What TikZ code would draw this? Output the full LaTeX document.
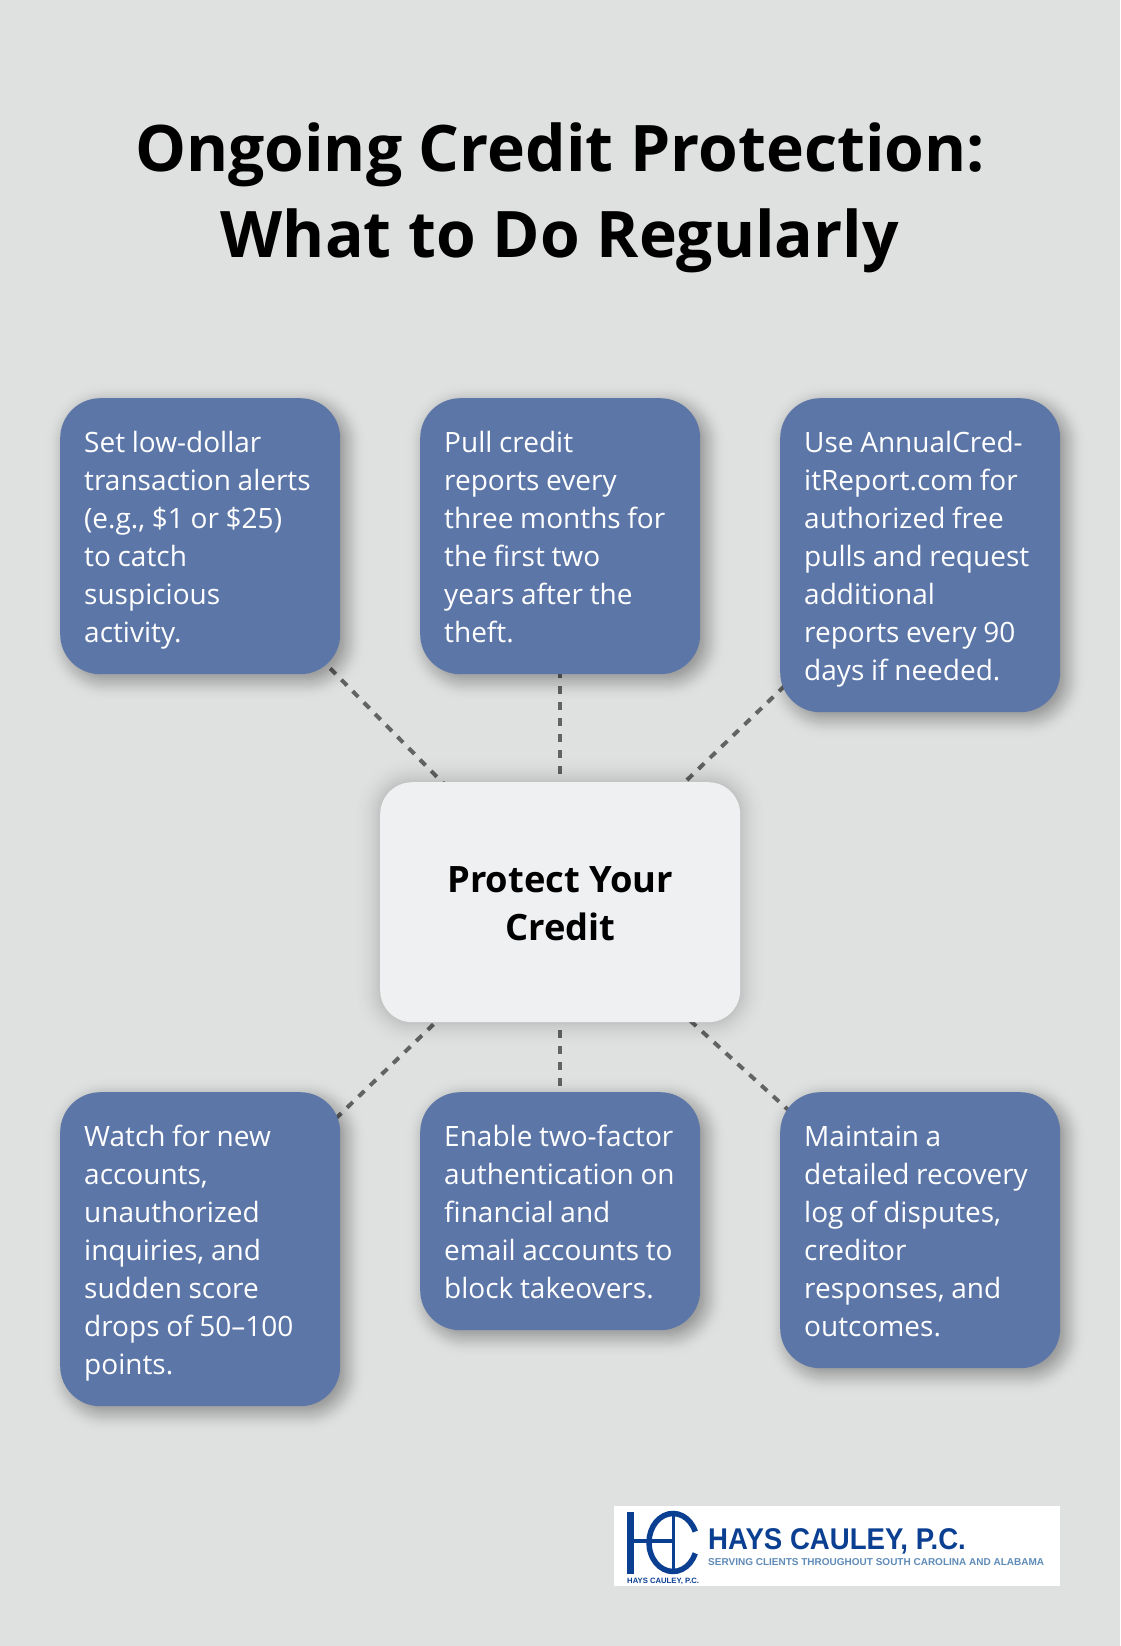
\documentclass[tikz,border=0pt]{standalone}
\usepackage{fontspec}
\setmainfont{Open Sans}
\newfontfamily\plainfont{Open Sans}[WordSpace=0.92]
\newfontfamily\logofont{Liberation Sans}[FakeStretch=0.92]
\newfontfamily\logosmall{Liberation Sans}
\definecolor{bgc}{HTML}{DFE1E0}
\definecolor{boxc}{HTML}{5C76A8}
\definecolor{midc}{HTML}{EFF0F2}
\definecolor{linec}{HTML}{636363}
\definecolor{logoa}{HTML}{0B3F92}
\definecolor{logob}{HTML}{5F8BB8}
\pgfdeclarelayer{paper}
\pgfdeclarelayer{lines}
\pgfdeclarelayer{shadow}
\pgfsetlayers{paper,lines,shadow,main}
\tikzset{
  x=1pt,y=-1pt,
  card/.style={anchor=north west,fill=boxc,rounded corners=40pt,inner sep=0pt,minimum width=280pt},
  cardtext/.style={anchor=north west,text=white,inner sep=0pt,align=left,font=\plainfont\fontsize{28}{38}\selectfont},
  hub/.style={anchor=north west,fill=midc,text=black,rounded corners=32pt,inner sep=0pt,
    minimum width=360pt,minimum height=240pt,align=center,font=\fontsize{36.3}{48}\selectfont\bfseries},
  title/.style={anchor=center,align=center,text=black,inner sep=0pt,font=\fontsize{64.2}{86}\selectfont\bfseries},
  link/.style={draw=linec,line width=4pt,dash pattern=on 8pt off 8pt},
}
\newcommand{\cardbox}[5]{% name, x, y, h, text
  \node[card,minimum height=#4] (#1) at (#2,#3) {};
  \node[cardtext] (#1-t) at ([xshift=24pt,yshift=-27.5pt]#1.north west) {\strut #5\strut};
}
% node, radius, offset, sigma, alpha
\newcommand{\softshadow}[5]{%
  \begin{pgfonlayer}{shadow}
  \foreach \d in {-28,-26,...,28}{
    \pgfmathsetmacro{\op}{#5*2/(#4*2.5066)*exp(-(\d*\d)/(2*#4*#4))}
    \pgfmathsetmacro{\rr}{max(#2+\d,1)}
    \fill[black,opacity=\op,rounded corners=\rr pt]
      ([xshift=#3 pt-\d pt,yshift=-#3 pt+\d pt]#1.north west) rectangle ([xshift=#3 pt+\d pt,yshift=-#3 pt-\d pt]#1.south east);
  }
  \end{pgfonlayer}
}
\begin{document}
\begin{tikzpicture}
\begin{pgfonlayer}{paper}
\fill[bgc] (0,0) rectangle (1120,1646);
\end{pgfonlayer}
\useasboundingbox (0,0) rectangle (1120,1646);

\node[title] (ttl) at (560,197.5) {Ongoing Credit Protection:\\What to Do Regularly};

\cardbox{a}{60}{398}{276pt}{Set low-dollar\\transaction alerts\\(e.g., \$1 or \$25)\\to catch\\suspicious\\activity.}
\cardbox{b}{420}{398}{276pt}{Pull credit\\reports every\\three months for\\the first two\\years after the\\theft.}
\cardbox{c}{780}{398}{314pt}{Use AnnualCred-\\itReport.com for\\authorized free\\pulls and request\\additional\\reports every 90\\days if needed.}
\node[hub] (m) at (380,782) {\rule{0pt}{28pt}Protect Your\\Credit};
\cardbox{d}{60}{1092}{314pt}{Watch for new\\accounts,\\unauthorized\\inquiries, and\\sudden score\\drops of 50–100\\points.}
\cardbox{e}{420}{1092}{238pt}{Enable two-factor\\authentication on\\financial and\\email accounts to\\block takeovers.}
\cardbox{f}{780}{1092}{276pt}{Maintain a\\detailed recovery\\log of disputes,\\creditor\\responses, and\\outcomes.}

\foreach \n in {a,b,c,d,e,f}{\softshadow{\n}{40}{6}{9}{0.38}}
\softshadow{m}{32}{0}{12}{0.22}

\begin{pgfonlayer}{lines}
\foreach \n in {a,b,c,d,e,f}{\draw[link] (m.center) -- (\n.center);}
\end{pgfonlayer}

% logo
\node[anchor=north west,fill=white,minimum width=446pt,minimum height=80pt,inner sep=0pt] (logo) at (614,1506) {};
\draw[logoa,line width=7pt] (630,1512) -- (630,1574);
\draw[logoa,line width=3.5pt] (633,1541) -- (673,1541);
\draw[logoa,line width=3pt] (673,1512) -- (673,1573);
\draw[logoa,line width=5.5pt] (695.25,1531.6) arc[start angle=22,end angle=338,x radius=24pt,y radius=29pt];
\node[anchor=west,inner sep=0pt,text=logoa,font=\logofont\fontsize{30}{30}\selectfont\bfseries] (lt) at (708,1541) {HAYS CAULEY, P.C.};
\node[anchor=west,inner sep=0pt,text=logob,font=\logosmall\fontsize{10}{12}\selectfont\bfseries] (ls) at (708,1562) {SERVING CLIENTS THROUGHOUT SOUTH CAROLINA AND ALABAMA};
\node[anchor=west,inner sep=0pt,text=logoa,font=\logosmall\fontsize{7.7}{9}\selectfont\bfseries] (lm) at (627,1581) {HAYS CAULEY, P.C.};
\end{tikzpicture}
\end{document}
